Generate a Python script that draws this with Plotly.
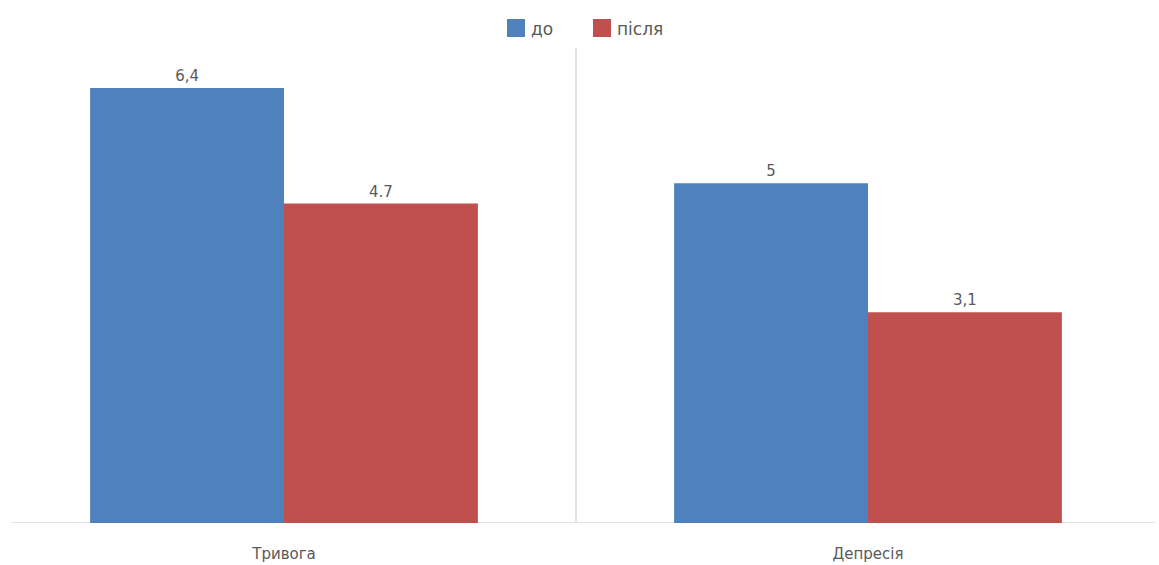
import plotly.graph_objects as go

# Categories and series
categories = ["Тривога", "Депресія"]
series_names = ["до", "після"]
before_values = [6.4, 5.0]
after_values = [4.7, 3.1]
before_labels = ["6,4", "5"]
after_labels = ["4.7", "3,1"]

BLUE = "#4F81BD"
RED = "#C0504D"
TEXT = "#595959"
GRID = "#D9D9D9"
FONT = "DejaVu Sans"
W, H = 1159, 565

fig = go.Figure()
for name, vals, labels, color in [
    (series_names[0], before_values, before_labels, BLUE),
    (series_names[1], after_values, after_labels, RED),
]:
    fig.add_trace(go.Bar(
        x=categories, y=vals, name=name,
        marker=dict(color=color, line=dict(width=0)),
        text=labels, textposition="outside",
        textfont=dict(family=FONT, size=15, color=TEXT),
        cliponaxis=False, showlegend=False,
    ))

# Horizontal base line and the divider between the two categories
fig.add_shape(type="line", xref="paper", yref="y",
              x0=11 / W, x1=1155 / W, y0=0, y1=0,
              line=dict(color=GRID, width=1.5), layer="below")
fig.add_shape(type="line", xref="x", yref="paper",
              x0=0.5, x1=0.5, y0=0, y1=1,
              line=dict(color=GRID, width=1.5), layer="below")

# Legend drawn as coloured squares with labels, placed in pixel terms
legend_items = [(series_names[0], BLUE, 507), (series_names[1], RED, 593)]
for name, color, px in legend_items:
    fig.add_shape(type="rect", xref="paper", yref="paper",
                  x0=px / W, x1=(px + 18) / W,
                  y0=(H - 37 - 42) / (H - 48 - 42), y1=(H - 19 - 42) / (H - 48 - 42),
                  fillcolor=color, line=dict(width=0))
    fig.add_annotation(text=name, xref="paper", yref="paper",
                       x=(px + 22) / W, xanchor="left",
                       y=(H - 29 - 42) / (H - 48 - 42), yanchor="middle",
                       showarrow=False,
                       font=dict(family=FONT, size=17, color=TEXT))

fig.update_layout(
    width=W, height=H,
    margin=dict(l=0, r=0, t=48, b=42),
    paper_bgcolor="white", plot_bgcolor="white",
    barmode="group", bargap=0.336, bargroupgap=0,
    showlegend=False,
    xaxis=dict(range=[-284 / 584, 1 + (W - 868) / 584], showline=False,
               showgrid=False, zeroline=False, ticks="",
               ticklabelstandoff=20,
               tickfont=dict(family=FONT, size=15, color=TEXT)),
    yaxis=dict(range=[0, 475 / 67.97], visible=False, showgrid=False, zeroline=False),
)

fig.write_html("out.html")
